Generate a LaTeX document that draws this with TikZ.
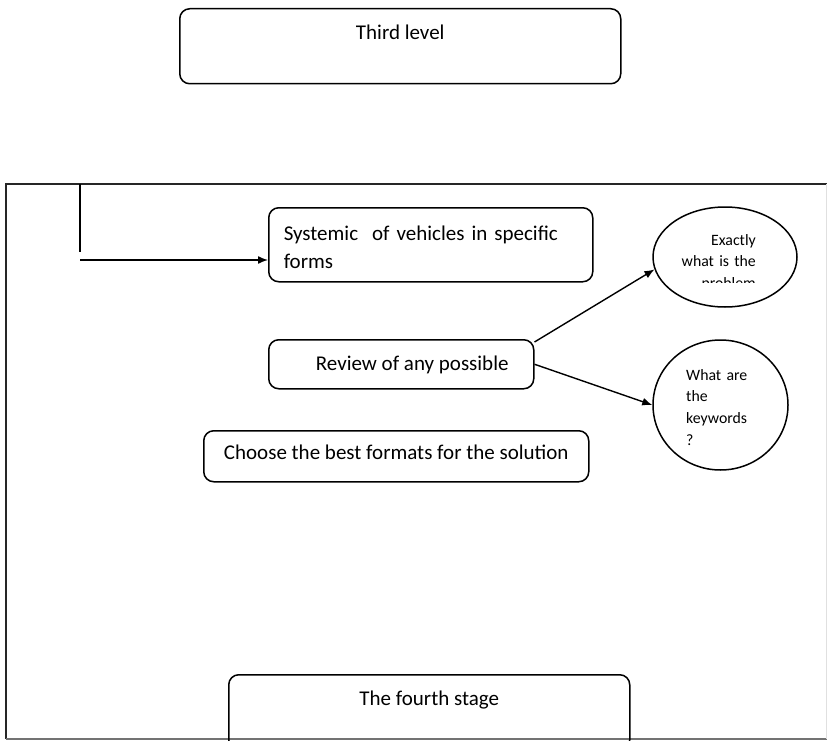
\documentclass[tikz,border=0pt]{standalone}
\usepackage{fontspec}
\setmainfont{Carlito}
\usetikzlibrary{arrows.meta, shapes, positioning}
\tikzset{mybox/.style = {draw, rounded corners=10pt, line width=1.5pt, anchor=north west,
		inner xsep=0pt, inner ysep=0pt, font=\fontsize{21}{28}\selectfont}}
\tikzset{myellipse/.style = {draw, ellipse, line width=1.5pt, inner sep=0pt}}
\tikzset{mysmalltext/.style = {inner sep=0pt, font=\fontsize{15.8}{21.7}\selectfont}}
\tikzset{myarrow/.style = {line width=1.4pt, -{Latex[length=10pt,width=8pt]}}}

\begin{document}
\begin{tikzpicture}[x=1pt,y=-1pt]
\useasboundingbox (0,0) rectangle (827,741);
% frame of the stage
\draw[line width=1.6pt, black!85] (827,184) -- (6,184) -- (6,739);
\draw[line width=1.2pt, black!55] (6,739) -- (827,739);
\draw[line width=1pt, black!12] (826,184) -- (826,739);

\node[mybox, minimum width=441pt, text height=31pt, text depth=44pt] (third) at (179,8) {Third level};
\node[mybox, text width=294pt, inner xsep=15pt, align=left, text height=33pt, text depth=41pt] (sys) at (268,207)
	{Systemic\ \ of vehicles in specific\\forms};
\node[mybox, minimum width=265pt, text height=31pt, text depth=18pt] (review) at (268,339) {\hspace{22pt}Review of any possible};
\node[mybox, minimum width=385pt, text height=29pt, text depth=22pt] (choose) at (203,430) {Choose the best formats for the solution};
\node[mybox, minimum width=401pt, text height=31pt, text depth=44pt] (fourth) at (228,674) {The fourth stage};

\node[myellipse, minimum width=144pt, minimum height=100pt] (problem) at (725,257) {};
\begin{scope}
	\clip (640,200) rectangle (800,282);
	\node[mysmalltext, text width=80pt, align=right, anchor=base east] (problemtext) at (756,245) {Exactly\\what is the\\problem};
\end{scope}
\node[myellipse, minimum width=135pt, minimum height=130pt] (keywords) at (720.5,405) {};
\node[mysmalltext, text width=70pt, align=left, anchor=base west] (keywordstext) at (686,380) {What are\\the\\keywords\\?};

\coordinate (ltop) at (80,184);
\coordinate (lbot) at (80,252);
\coordinate (lstart) at (80,260);
\draw[line width=1.4pt] (ltop) -- (lbot);
\draw[myarrow] (lstart) -- (lstart -| sys.west);
\draw[myarrow] ([yshift=-3pt]review.north east) -- (problem.190);
\draw[myarrow] (review.east) -- (keywords.west);
%\draw[myarrow] (choose) -- (fourth);
\end{tikzpicture}
\end{document}
